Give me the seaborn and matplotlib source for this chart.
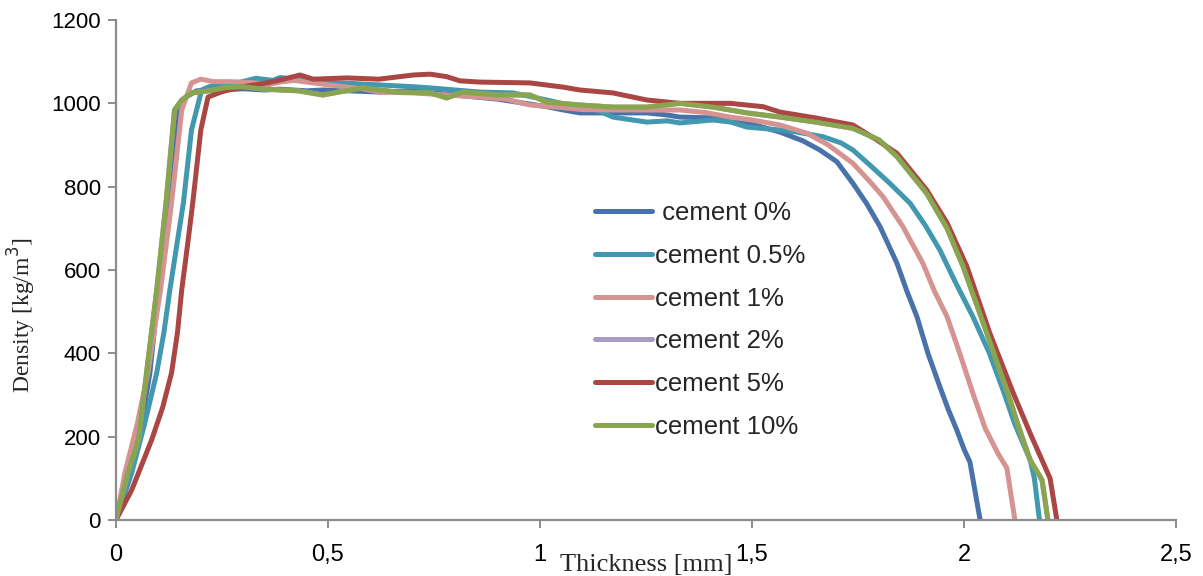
import numpy as np
import pandas as pd
import matplotlib
matplotlib.use("Agg")
import matplotlib.pyplot as plt
import seaborn as sns

# Density profiles across board thickness for different cement contents
labels = [" cement 0%", "cement 0.5%", "cement 1%", "cement 2%", "cement 5%", "cement 10%"]

x_c0 = [0, 0.03, 0.06, 0.08, 0.1, 0.123, 0.145, 0.165, 0.19, 0.25, 0.3, 0.35, 0.387, 0.45, 0.488,
        0.55, 0.623, 0.7, 0.8, 0.9, 1.016, 1.05, 1.094, 1.172, 1.252, 1.3, 1.33, 1.408, 1.5, 1.566,
        1.62, 1.66, 1.7, 1.738, 1.77, 1.802, 1.842, 1.865, 1.889, 1.915, 1.943, 1.963, 1.983, 2.0,
        2.014, 2.038]
y_c0 = [0, 113, 230, 353, 552, 761, 970, 1015, 1030, 1032, 1035, 1032, 1034, 1030, 1032,
        1030, 1027, 1030, 1020, 1010, 992, 985, 977, 977, 977, 972, 967, 965, 950, 931,
        910, 888, 860, 808, 760, 704, 616, 550, 488, 400, 320, 265, 216, 170,
        139, 0]

x_c05 = [0, 0.037, 0.068, 0.096, 0.113, 0.127, 0.145, 0.159, 0.178, 0.202, 0.22, 0.25, 0.29, 0.33,
         0.37, 0.387, 0.42, 0.48, 0.55, 0.623, 0.7, 0.741, 0.8, 0.858, 0.936, 1.016, 1.05, 1.1,
         1.134, 1.172, 1.252, 1.3, 1.33, 1.408, 1.45, 1.488, 1.566, 1.6, 1.667, 1.71, 1.738, 1.78,
         1.825, 1.873, 1.91, 1.943, 1.98, 2.021, 2.06, 2.092, 2.12, 2.156, 2.166, 2.178]
y_c05 = [0, 113, 233, 353, 450, 552, 670, 761, 936, 1032, 1040, 1045, 1050, 1060,
         1055, 1062, 1058, 1050, 1048, 1044, 1040, 1037, 1032, 1027, 1025, 1008, 1000, 990,
         984, 967, 955, 958, 953, 960, 955, 943, 936, 932, 920, 905, 888, 850,
         808, 760, 705, 648, 570, 488, 400, 312, 230, 144, 100, 0]

x_c1 = [0, 0.021, 0.05, 0.075, 0.105, 0.131, 0.155, 0.178, 0.2, 0.23, 0.27, 0.32, 0.36, 0.387,
        0.42, 0.465, 0.52, 0.58, 0.623, 0.7, 0.78, 0.858, 0.92, 0.976, 1.05, 1.1, 1.172, 1.252,
        1.33, 1.39, 1.448, 1.5, 1.566, 1.63, 1.68, 1.738, 1.78, 1.809, 1.856, 1.903, 1.93, 1.96,
        1.99, 2.021, 2.05, 2.08, 2.101, 2.12]
y_c1 = [0, 113, 230, 353, 552, 761, 984, 1049, 1058, 1052, 1052, 1050, 1045, 1051,
        1055, 1049, 1042, 1035, 1027, 1025, 1020, 1015, 1010, 996, 990, 985, 984, 984,
        984, 978, 967, 960, 948, 928, 900, 856, 810, 776, 704, 616, 550, 488,
        400, 304, 220, 160, 125, 0]

x_c5 = [0, 0.037, 0.084, 0.11, 0.131, 0.145, 0.155, 0.17, 0.181, 0.2, 0.217, 0.25, 0.3, 0.35,
        0.387, 0.434, 0.465, 0.545, 0.62, 0.701, 0.741, 0.78, 0.811, 0.858, 0.976, 1.054, 1.094,
        1.172, 1.252, 1.33, 1.448, 1.526, 1.566, 1.65, 1.738, 1.79, 1.842, 1.912, 1.96, 2.007,
        2.061, 2.116, 2.156, 2.203, 2.219]
y_c5 = [0, 72, 192, 270, 353, 450, 552, 670, 761, 936, 1015, 1028, 1040, 1048,
        1056, 1068, 1058, 1061, 1058, 1068, 1070, 1064, 1054, 1051, 1049, 1039, 1032,
        1025, 1008, 1000, 1000, 992, 979, 965, 948, 915, 880, 792, 713, 608,
        448, 305, 208, 100, 0]

x_c10 = [0, 0.028, 0.053, 0.072, 0.096, 0.118, 0.138, 0.155, 0.178, 0.2, 0.22, 0.26, 0.3, 0.34,
         0.387, 0.43, 0.488, 0.53, 0.583, 0.663, 0.741, 0.78, 0.818, 0.899, 0.976, 1.016, 1.094,
         1.172, 1.252, 1.33, 1.408, 1.488, 1.566, 1.65, 1.738, 1.8, 1.842, 1.912, 1.96, 1.998,
         2.054, 2.101, 2.13, 2.156, 2.184, 2.198]
y_c10 = [0, 113, 192, 353, 552, 761, 984, 1008, 1025, 1028, 1030, 1038, 1040, 1035,
         1032, 1030, 1020, 1028, 1037, 1027, 1025, 1013, 1027, 1020, 1020, 1003, 996,
         991, 991, 1000, 991, 977, 967, 955, 940, 912, 872, 784, 700, 608,
         448, 312, 220, 144, 96, 0]

# the 2% profile runs underneath the 10% profile
x_c2 = list(x_c10)
y_c2 = list(y_c10)

xs = [x_c0, x_c05, x_c1, x_c2, x_c5, x_c10]
ys = [y_c0, y_c05, y_c1, y_c2, y_c5, y_c10]

colors = ["#4A72AA", "#4198AF", "#D59391", "#A99BC3", "#AA4643", "#89A54E"]

frames = []
for lab, xv, yv in zip(labels, xs, ys):
    frames.append(pd.DataFrame({"thickness": xv, "density": yv, "mix": lab}))
df = pd.concat(frames, ignore_index=True)

sns.set_theme(style="white")
plt.rcParams["font.family"] = ["Liberation Sans", "DejaVu Sans"]

fig = plt.figure(figsize=(12.03, 5.76), dpi=100)
ax = fig.add_axes([116 / 1203, 1 - 520 / 576, 1060 / 1203, 500 / 576])

sns.lineplot(data=df, x="thickness", y="density", hue="mix", hue_order=labels,
             palette=dict(zip(labels, colors)), sort=False, estimator=None,
             linewidth=3.6, ax=ax, legend=False)

ax.set_xlim(0, 2.5)
ax.set_ylim(0, 1200)
xt = [0, 0.5, 1, 1.5, 2, 2.5]
ax.set_xticks(xt)
ax.set_xticklabels(["0", "0,5", "1", "1,5", "2", "2,5"], fontsize=17)
ax.set_yticks(range(0, 1201, 200))
ax.set_yticklabels([str(v) for v in range(0, 1201, 200)], fontsize=16)

for side in ["top", "right"]:
    ax.spines[side].set_visible(False)
for side in ["left", "bottom"]:
    ax.spines[side].set_color("#8c8c8c")
    ax.spines[side].set_linewidth(1.6)
ax.tick_params(axis="both", direction="out", length=6, width=1.4, color="#8c8c8c",
               labelcolor="black", bottom=True, left=True)
ax.tick_params(axis="x", pad=11)
ax.tick_params(axis="y", pad=5)

ax.set_xlabel("Thickness [mm]", family=["Liberation Serif", "DejaVu Serif"], fontsize=19)
ax.xaxis.set_label_coords(0.5, -0.068)
ax.set_ylabel("Density [kg/m$^3$]", family=["Liberation Serif", "DejaVu Serif"], fontsize=17)
ax.yaxis.set_label_coords(-0.074, 0.41)

handles = [plt.Line2D([], [], color=c, linewidth=3.6, solid_capstyle="round") for c in colors]
ax.legend(handles, labels, loc="upper left", bbox_to_anchor=(0.452, 0.638), frameon=False,
          fontsize=18.5, handlelength=2.2, handletextpad=0.12, labelspacing=0.73,
          borderpad=0, borderaxespad=0)

fig.savefig("out.png", dpi=100, facecolor="white")
